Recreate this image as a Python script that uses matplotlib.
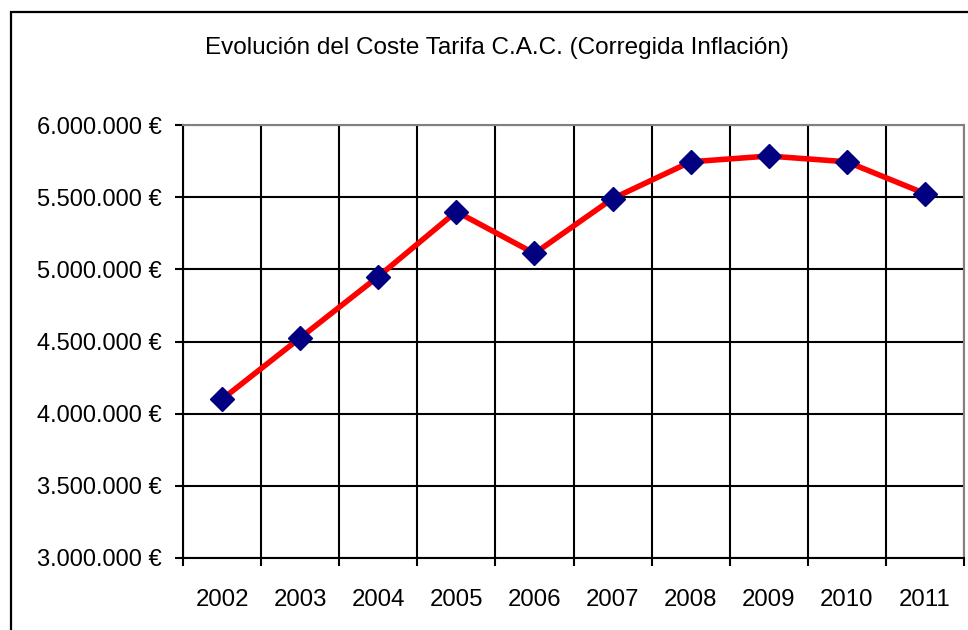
import matplotlib
matplotlib.use("Agg")
import matplotlib.pyplot as plt
from matplotlib.patches import Rectangle
from matplotlib.ticker import FuncFormatter, MultipleLocator

years = ["2002", "2003", "2004", "2005", "2006", "2007", "2008", "2009", "2010", "2011"]
coste = [4100000, 4525000, 4950000, 5400000, 5110000, 5490000, 5745000, 5785000, 5745000, 5525000]
title = "Evolución del Coste Tarifa C.A.C. (Corregida Inflación)"

plt.rcParams['font.family'] = ['Liberation Sans', 'DejaVu Sans']


def euro_fmt(v, pos):
    return "{:,.0f} €".format(v).replace(",", ".")


fig = plt.figure(figsize=(9.68, 6.30), dpi=100)
ax = fig.add_axes([183 / 968, 72 / 630, 781 / 968, 433 / 630])

xs = list(range(len(years)))
ax.plot(xs, coste, color="#FF0000", lw=4, zorder=3, solid_joinstyle="round")
ax.plot(xs, coste, linestyle="none", marker="D", markersize=12.5,
        color="#000080", zorder=4)

ax.set_xlim(-0.5, len(years) - 0.5)
ax.set_ylim(3000000, 6000000)
ax.yaxis.set_major_locator(MultipleLocator(500000))
ax.yaxis.set_major_formatter(FuncFormatter(euro_fmt))
# category boundaries get the ticks and gridlines, labels sit in the middle
ax.set_xticks([x + 0.5 for x in xs[:-1]] + [-0.5, len(years) - 0.5], minor=False)
ax.set_xticklabels([""] * (len(years) + 1))
ax.set_xticks(xs, minor=True)
ax.set_xticklabels(years, minor=True)
ax.tick_params(axis="x", which="minor", length=0, pad=22, labelsize=17.3)
ax.tick_params(axis="x", which="major", length=6, width=1.5, direction="out", color="black")
ax.tick_params(axis="y", length=6, width=1.5, direction="out", pad=9, labelsize=17)

ax.grid(True, which="major", color="black", lw=1.5)
ax.set_axisbelow(True)
for s in ["top", "right"]:
    ax.spines[s].set_color("#808080")
    ax.spines[s].set_linewidth(1.5)
for s in ["left", "bottom"]:
    ax.spines[s].set_color("black")
    ax.spines[s].set_linewidth(1.5)

fig.text(497 / 968, 1 - 48 / 630, title, ha="center", va="center", fontsize=17.5)

# outer chart border (cropped at right and bottom)
fig.patches.append(Rectangle((10.5 / 968, -0.1), 1.2, 1 - 12 / 630 + 0.1,
                             transform=fig.transFigure, fill=False,
                             edgecolor="black", lw=1.6))

fig.savefig("out.png", dpi=100)
